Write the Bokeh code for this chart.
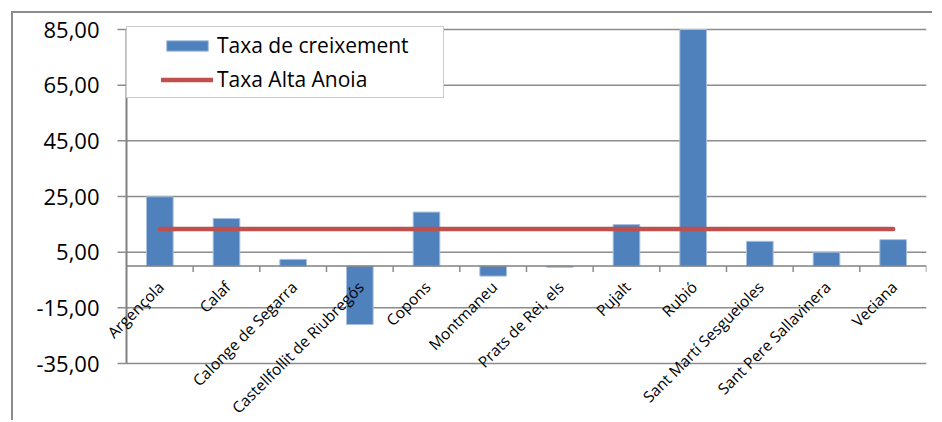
from math import pi
from bokeh.plotting import figure
from bokeh.models import Range1d, ColumnDataSource
from bokeh.embed import file_html
from bokeh.resources import INLINE

# ---- data ----
municipis = ["Argençola", "Calaf", "Calonge de Segarra", "Castellfollit de Riubregós",
             "Copons", "Montmaneu", "Prats de Rei, els", "Pujalt", "Rubió",
             "Sant Martí Sesgueioles", "Sant Pere Sallavinera", "Veciana"]
taxa_creixement = [24.9, 17.1, 2.4, -21.0, 19.4, -3.6, -0.4, 14.9, 85.0, 8.9, 5.0, 9.5]
taxa_alta_anoia = [13.3, 13.3, 13.3, 13.3, 13.3, 13.3, 13.3, 13.3, 13.3, 13.3, 13.3, 13.3]
y_ticks = [-35, -15, 5, 25, 45, 65, 85]
y_tick_labels = ["-35,00", "-15,00", "5,00", "25,00", "45,00", "65,00", "85,00"]

# ---- styling / layout ----
FONT = "Open Sans"
GRID = "#8c8c8c"
AXIS = "#808080"
BLUE = "#4F81BD"
RED = "#C0504D"

W, H = 921, 409            # canvas size
PLOT_TOP, LEFT, RIGHT = 16, 113, 8
plot_w_px, plot_h_px = 800.0, 334.0   # size of the category band / -35..85 band

n = len(municipis)
pos = list(range(n))                   # category slot index
ux = n / plot_w_px                     # x data units per pixel
uy = (y_ticks[-1] - y_ticks[0]) / plot_h_px
x_lo, x_hi = -0.5, n - 0.5             # edges of the category band
y_lo, y_hi = y_ticks[0], y_ticks[-1]

src = ColumnDataSource(dict(x=pos, cat=municipis, taxa=taxa_creixement, alta=taxa_alta_anoia))
ysrc = ColumnDataSource(dict(y=y_ticks, lab=y_tick_labels))
bsrc = ColumnDataSource(dict(b=[i + 0.5 for i in pos]))

p = figure(x_range=Range1d(x_lo - LEFT * ux, x_hi),
           y_range=Range1d(y_hi - (H - PLOT_TOP) * uy, y_hi + PLOT_TOP * uy),
           width=W, height=H, output_backend="svg", toolbar_location=None,
           x_axis_location=None, y_axis_location=None,
           min_border_left=0, min_border_right=RIGHT, min_border_top=0,
           min_border_bottom=0)
p.grid.visible = False
p.outline_line_color = None
p.background_fill_color = "white"
p.border_fill_color = "white"
p.margin = (11, 0, 0, 11)
p.styles = {"border-left": "2px solid #8c8c8c", "border-top": "2px solid #8c8c8c"}

# horizontal gridlines
p.segment(x0=x_lo, x1=x_hi, y0="y", y1="y", source=ysrc, line_color=GRID, line_width=1.5)

# bars
p.vbar(x="x", top="taxa", bottom=0, width=0.4, source=src, fill_color=BLUE,
       line_color="#a9c1df", line_width=1, legend_label="Taxa de creixement")

# y axis: line, ticks, labels
p.segment(x0=x_lo, x1=x_lo, y0=y_lo, y1=y_hi, line_color=AXIS, line_width=2)
p.segment(x0=x_lo - 9 * ux, x1=x_lo, y0="y", y1="y", source=ysrc,
          line_color=GRID, line_width=1.5)
p.text(x=x_lo, y="y", text="lab", source=ysrc, x_offset=-27, text_align="right",
       text_baseline="middle", text_font={"value": FONT}, text_font_size="22px",
       text_color="black")

# category axis at zero
p.segment(x0=x_lo, x1=x_hi, y0=0, y1=0, line_color=AXIS, line_width=1.5)
p.segment(x0="b", x1="b", y0=0, y1=-6 * uy, source=bsrc, line_color=GRID, line_width=1.5)
p.text(x="x", y=0, text="cat", source=src, angle=pi / 4, text_align="right",
       text_baseline="middle", x_offset=1, y_offset=18,
       text_font={"value": FONT}, text_font_size="15.5px", text_color="black")

# reference line
p.line(x="x", y="alta", source=src, line_color=RED, line_width=4.5,
       line_cap="round", legend_label="Taxa Alta Anoia")

# legend
lg = p.legend[0]
lg.location = (LEFT, H - PLOT_TOP - 69)
lg.margin = 0
lg.glyph_width = 52
lg.glyph_height = 13
lg.label_standoff = 4
lg.label_height = 24
lg.spacing = 6
lg.label_text_font = FONT
lg.label_text_font_size = "21px"
lg.label_text_color = "black"
lg.border_line_color = "#9a9a9a"
lg.border_line_width = 1.5
lg.background_fill_color = "white"
lg.background_fill_alpha = 1
try:
    lg.padding = (34, 4)
except Exception:
    lg.padding = 6
    lg.label_width = 246

open("out.html", "w").write(file_html(p, INLINE))
